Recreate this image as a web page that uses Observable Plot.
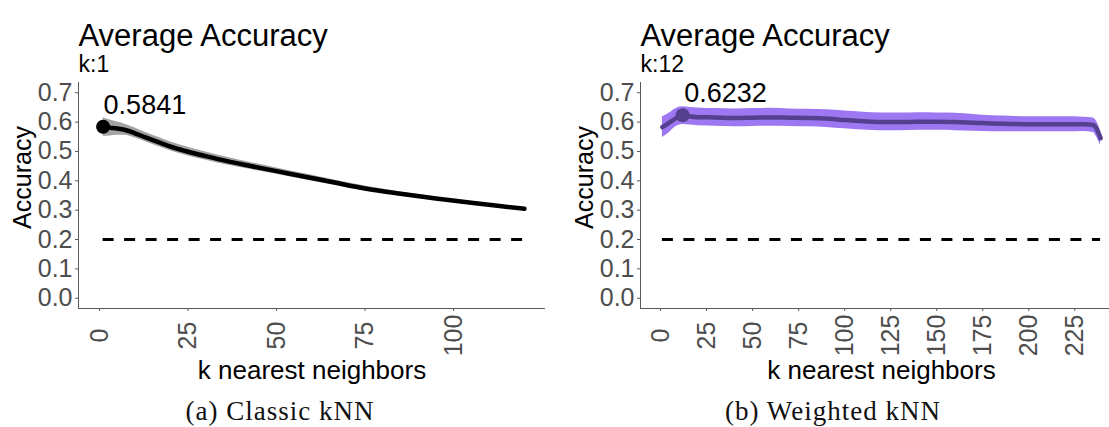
<!DOCTYPE html>
<html>
<head>
<meta charset="utf-8">
<script src="https://cdn.jsdelivr.net/npm/d3@7"></script>
<script src="https://cdn.jsdelivr.net/npm/@observablehq/plot@0.6"></script>
<style>
  html, body { margin: 0; padding: 0; background: white; overflow: hidden; width: 1109px; height: 427px; position: relative; }
  .panel { position: absolute; top: 0; }
  .panel svg { max-width: none !important; }
  .caption { position: absolute; top: 398px; width: 560px; text-align: center; font-family: "Liberation Serif", serif; font-size: 27px; line-height: 26px; letter-spacing: 1px; color: #111; }
</style>
</head>
<body>
<div id="left" class="panel" style="left:0px; width:560px"></div>
<div id="right" class="panel" style="left:560px; width:562px"></div>
<div class="caption" id="capA" style="left:0px"></div>
<div class="caption" id="capB" style="left:553px"></div>
<script>
// ---------- data ----------
const titleText = "Average Accuracy";
const xLabel = "k nearest neighbors";
const yLabel = "Accuracy";
const captions = ["(a) Classic kNN", "(b) Weighted kNN"];
const yTicks = [0.0, 0.1, 0.2, 0.3, 0.4, 0.5, 0.6, 0.7];
const chanceLevel = 0.2;

// Classic kNN
const classicK    = [1, 3, 5, 7, 10, 13, 17, 21, 25, 30, 36, 42, 50, 58, 66, 75, 85, 95, 105, 113, 120];
const classicAcc  = [0.5841, 0.581, 0.578, 0.574, 0.562, 0.548, 0.530, 0.513, 0.499, 0.484, 0.467, 0.452, 0.433, 0.414, 0.395, 0.374, 0.356, 0.340, 0.325, 0.314, 0.305];
const classicHigh = [0.615, 0.607, 0.600, 0.594, 0.580, 0.565, 0.547, 0.529, 0.514, 0.498, 0.480, 0.464, 0.444, 0.424, 0.404, 0.382, 0.362, 0.345, 0.329, 0.317, 0.307];
const classicLow  = [0.552, 0.553, 0.555, 0.555, 0.546, 0.533, 0.515, 0.498, 0.485, 0.470, 0.454, 0.440, 0.422, 0.404, 0.386, 0.366, 0.350, 0.335, 0.321, 0.311, 0.303];
const classicXTicks = [0, 25, 50, 75, 100];
const classicBest = {k: 1, acc: 0.5841};

// Weighted kNN
const weightedK    = [1, 4, 8, 12, 16, 20, 30, 40, 50, 60, 70, 80, 90, 100, 110, 120, 130, 140, 150, 160, 170, 180, 190, 200, 210, 220, 230, 235, 237, 239];
const weightedAcc  = [0.583, 0.595, 0.612, 0.6232, 0.619, 0.617, 0.616, 0.614, 0.615, 0.616, 0.615, 0.614, 0.612, 0.607, 0.603, 0.600, 0.600, 0.601, 0.601, 0.600, 0.598, 0.595, 0.594, 0.593, 0.593, 0.593, 0.593, 0.590, 0.575, 0.545];
const weightedHigh = [0.618, 0.628, 0.645, 0.652, 0.650, 0.648, 0.646, 0.645, 0.646, 0.647, 0.645, 0.644, 0.642, 0.638, 0.634, 0.631, 0.631, 0.632, 0.631, 0.630, 0.626, 0.622, 0.620, 0.618, 0.618, 0.618, 0.617, 0.614, 0.600, 0.570];
const weightedLow  = [0.548, 0.560, 0.583, 0.592, 0.590, 0.588, 0.586, 0.584, 0.585, 0.586, 0.585, 0.584, 0.582, 0.577, 0.573, 0.571, 0.571, 0.572, 0.572, 0.571, 0.569, 0.567, 0.567, 0.567, 0.567, 0.567, 0.568, 0.565, 0.548, 0.520];
const weightedXTicks = [0, 25, 50, 75, 100, 125, 150, 175, 200, 225];
const weightedBest = {k: 12, acc: 0.6232};

// ---------- chart builder ----------
function panel({ks, acc, low, high, xTicks, best, xDomain, width, marginLeft, marginRight, ribbon, line, dotFill, labelDx}) {
  const rows = ks.map((k, i) => ({k, acc: acc[i], low: low[i], high: high[i]}));
  const yDomain = [-0.035, 0.735];
  const axisColor = "#5a5a5a";
  const tickText = "#4d4d4d";
  return Plot.plot({
    width, height: 390,
    marginLeft, marginRight, marginTop: 82, marginBottom: 82,
    x: {domain: xDomain},
    y: {domain: yDomain},
    style: {fontFamily: "Liberation Sans, Arial, sans-serif", background: "white", overflow: "visible"},
    marks: [
      Plot.areaY(rows, {x: "k", y1: "low", y2: "high", fill: ribbon, curve: "monotone-x"}),
      Plot.ruleY([chanceLevel], {x1: ks[0], x2: ks[ks.length - 1], stroke: "black", strokeWidth: 3, strokeDasharray: "11,10.5"}),
      Plot.lineY(rows, {x: "k", y: "acc", stroke: line, strokeWidth: 4.5, curve: "monotone-x"}),
      Plot.dot([best], {x: "k", y: "acc", r: 7, fill: dotFill, stroke: null}),
      Plot.text([best], {x: "k", y: "acc", text: d => d.acc.toFixed(4), textAnchor: "start", lineAnchor: "bottom", dx: labelDx, dy: -13, fontSize: 27, fill: "black"}),
      Plot.ruleX([xDomain[0]], {stroke: axisColor, strokeWidth: 1}),
      Plot.ruleY([yDomain[0]], {stroke: axisColor, strokeWidth: 1}),
      Plot.axisY({ticks: yTicks, tickFormat: d3.format(".1f"), tickSize: 3, tickPadding: 3, fontSize: 25, color: tickText, stroke: axisColor, label: null}),
      Plot.axisX({ticks: xTicks, tickFormat: () => "", tickSize: 3, stroke: axisColor, label: null}),
      Plot.text(xTicks, {x: d => d, frameAnchor: "bottom", dy: 27, rotate: -90, textAnchor: "middle", lineAnchor: "middle", fontSize: 25, fill: tickText, text: d => String(d)}),
      Plot.text([xLabel], {frameAnchor: "bottom", dy: 70, lineAnchor: "bottom", fontSize: 26, fill: "black"}),
      Plot.text([yLabel], {frameAnchor: "left", dx: -56, dy: -18, rotate: -90, textAnchor: "middle", lineAnchor: "middle", fontSize: 25, fill: "black"}),
      Plot.text([titleText], {frameAnchor: "top-left", dy: -37, textAnchor: "start", lineAnchor: "bottom", fontSize: 31, fill: "black"}),
      Plot.text(["k:" + best.k], {frameAnchor: "top-left", dy: -10.5, textAnchor: "start", lineAnchor: "bottom", fontSize: 23, fill: "black"})
    ]
  });
}

document.getElementById("left").append(panel({
  ks: classicK, acc: classicAcc, low: classicLow, high: classicHigh,
  xTicks: classicXTicks, best: classicBest,
  xDomain: [-5.95, 125.95], width: 560, marginLeft: 78, marginRight: 15,
  ribbon: "#a3a3a3", line: "black", dotFill: "black", labelDx: 0.5
}));

document.getElementById("right").append(panel({
  ks: weightedK, acc: weightedAcc, low: weightedLow, high: weightedHigh,
  xTicks: weightedXTicks, best: weightedBest,
  xDomain: [-10.9, 250.9], width: 562, marginLeft: 80, marginRight: 0,
  ribbon: "#9e78f2", line: "#55408f", dotFill: "#55408f", labelDx: 1.5
}));

document.getElementById("capA").textContent = captions[0];
document.getElementById("capB").textContent = captions[1];
</script>
</body>
</html>
